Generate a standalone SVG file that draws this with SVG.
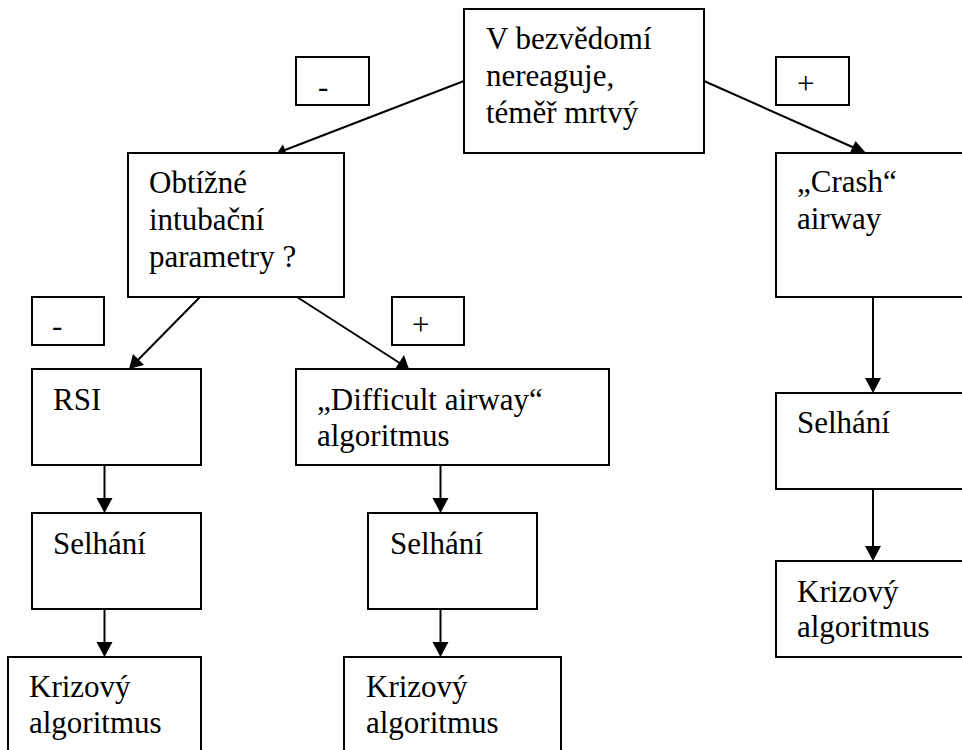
<svg xmlns="http://www.w3.org/2000/svg" width="962" height="750" viewBox="0 0 962 750">
<rect width="962" height="750" fill="#fff"/>
<g id="connectors" stroke="#000" stroke-width="2">
<line x1="464" y1="81" x2="285" y2="150"/>
<polygon points="277,153 283,144.5 288.7,159.5" fill="#000" stroke="none"/>
<line x1="704" y1="81" x2="858" y2="149.5"/>
<polygon points="866,153 855.5,141 848.7,155.6" fill="#000" stroke="none"/>
<line x1="200" y1="297" x2="135" y2="363"/>
<polygon points="129,369 133,354 144,365" fill="#000" stroke="none"/>
<line x1="297" y1="297" x2="402" y2="364.5"/>
<polygon points="409,369 404,355 395,369" fill="#000" stroke="none"/>
<line x1="104.5" y1="465" x2="104.5" y2="500"/>
<polygon points="96.5,498 112.5,498 104.5,513" fill="#000" stroke="none"/>
<line x1="104.5" y1="609" x2="104.5" y2="644"/>
<polygon points="96.5,642 112.5,642 104.5,657" fill="#000" stroke="none"/>
<line x1="440.5" y1="465" x2="440.5" y2="500"/>
<polygon points="432.5,498 448.5,498 440.5,513" fill="#000" stroke="none"/>
<line x1="440.5" y1="609" x2="440.5" y2="644"/>
<polygon points="432.5,642 448.5,642 440.5,657" fill="#000" stroke="none"/>
<line x1="873" y1="297" x2="873" y2="380"/>
<polygon points="865,378 881,378 873,393" fill="#000" stroke="none"/>
<line x1="873" y1="489" x2="873" y2="548"/>
<polygon points="865,546 881,546 873,561" fill="#000" stroke="none"/>
</g>
<g id="label-minus-top"><rect x="296" y="57" width="73" height="48" fill="#fff" stroke="#000" stroke-width="2"/><text x="318" y="97" font-family="Times New Roman" font-size="31">-</text></g>
<g id="label-plus-top"><rect x="776" y="57" width="73" height="48" fill="#fff" stroke="#000" stroke-width="2"/><text x="797" y="94" font-family="Times New Roman" font-size="31">+</text></g>
<g id="label-minus-low"><rect x="32" y="297" width="72" height="48" fill="#fff" stroke="#000" stroke-width="2"/><text x="52" y="336" font-family="Times New Roman" font-size="31">-</text></g>
<g id="label-plus-low"><rect x="392" y="297" width="72" height="48" fill="#fff" stroke="#000" stroke-width="2"/><text x="412" y="335" font-family="Times New Roman" font-size="31">+</text></g>
<g id="n-root"><rect x="464" y="9" width="240" height="144" fill="#fff" stroke="#000" stroke-width="2"/>
<text x="486" y="49" font-family="Times New Roman" font-size="31">V bezvědomí</text>
<text x="486" y="86" font-family="Times New Roman" font-size="31">nereaguje,</text>
<text x="486" y="123" font-family="Times New Roman" font-size="31">téměř mrtvý</text></g>
<g id="n-obtizne"><rect x="128" y="153" width="216" height="144" fill="#fff" stroke="#000" stroke-width="2"/>
<text x="149" y="193" font-family="Times New Roman" font-size="31">Obtížné</text>
<text x="149" y="230" font-family="Times New Roman" font-size="31">intubační</text>
<text x="149" y="267" font-family="Times New Roman" font-size="31">parametry ?</text></g>
<g id="n-crash"><rect x="776" y="153" width="200" height="144" fill="#fff" stroke="#000" stroke-width="2"/>
<text x="797" y="192" font-family="Times New Roman" font-size="31">„Crash“</text>
<text x="797" y="229" font-family="Times New Roman" font-size="31">airway</text></g>
<g id="n-rsi"><rect x="32" y="369" width="169" height="96" fill="#fff" stroke="#000" stroke-width="2"/>
<text x="53" y="410" font-family="Times New Roman" font-size="31">RSI</text></g>
<g id="n-difficult"><rect x="296" y="369" width="313" height="96" fill="#fff" stroke="#000" stroke-width="2"/>
<text x="317" y="410" font-family="Times New Roman" font-size="31">„Difficult airway“</text>
<text x="317" y="446" font-family="Times New Roman" font-size="31">algoritmus</text></g>
<g id="n-selhani-1"><rect x="32" y="513" width="169" height="96" fill="#fff" stroke="#000" stroke-width="2"/>
<text x="53" y="554" font-family="Times New Roman" font-size="31">Selhání</text></g>
<g id="n-selhani-2"><rect x="368" y="513" width="169" height="96" fill="#fff" stroke="#000" stroke-width="2"/>
<text x="390" y="554" font-family="Times New Roman" font-size="31">Selhání</text></g>
<g id="n-selhani-3"><rect x="776" y="393" width="200" height="96" fill="#fff" stroke="#000" stroke-width="2"/>
<text x="797" y="433" font-family="Times New Roman" font-size="31">Selhání</text></g>
<g id="n-krize-1"><rect x="8" y="657" width="193" height="110" fill="#fff" stroke="#000" stroke-width="2"/>
<text x="29" y="697" font-family="Times New Roman" font-size="31">Krizový</text>
<text x="29" y="733" font-family="Times New Roman" font-size="31">algoritmus</text></g>
<g id="n-krize-2"><rect x="344" y="657" width="217" height="110" fill="#fff" stroke="#000" stroke-width="2"/>
<text x="366" y="697" font-family="Times New Roman" font-size="31">Krizový</text>
<text x="366" y="733" font-family="Times New Roman" font-size="31">algoritmus</text></g>
<g id="n-krize-3"><rect x="776" y="561" width="200" height="96" fill="#fff" stroke="#000" stroke-width="2"/>
<text x="797" y="602" font-family="Times New Roman" font-size="31">Krizový</text>
<text x="797" y="637" font-family="Times New Roman" font-size="31">algoritmus</text></g>
</svg>
